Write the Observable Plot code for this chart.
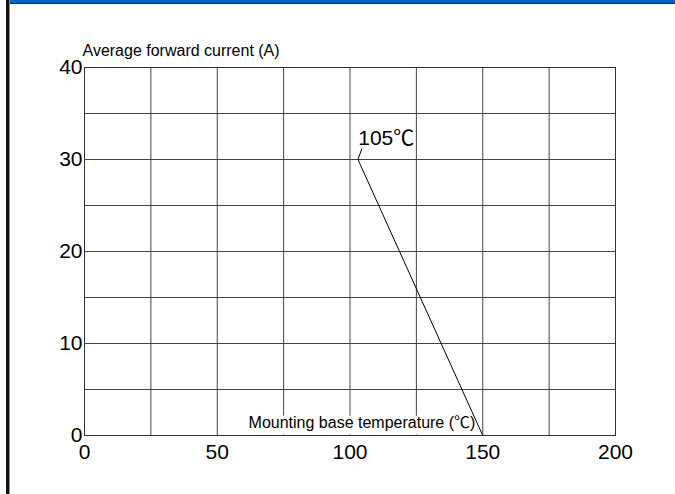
<!DOCTYPE html>
<html>
<head>
<meta charset="utf-8">
<script src="https://cdn.jsdelivr.net/npm/d3@7"></script>
<script src="https://cdn.jsdelivr.net/npm/@observablehq/plot@0.6"></script>
<style>
  html, body { margin: 0; padding: 0; background: #fff; }
  #wrap { position: relative; width: 675px; height: 494px; overflow: hidden; background: #fff; }
  #blue { position: absolute; left: 10px; top: 0; width: 665px; height: 3px; background: #0663c4; border-bottom: 1px solid #2a2a2a; }
  #lb1 { position: absolute; left: 6px; top: 0; width: 3px; height: 494px; background: #111; }
  #lb2 { position: absolute; left: 9px; top: 0; width: 1px; height: 494px; background: #8a8a8a; }
  #chart { position: absolute; left: 0; top: 0; }
</style>
</head>
<body>
<div id="wrap">
  <div id="blue"></div>
  <div id="lb1"></div>
  <div id="lb2"></div>
  <div id="chart"></div>
</div>
<script>
// ---- data ----
const xTicks = [0, 50, 100, 150, 200];
const yTicks = [0, 10, 20, 30, 40];
const xGrid = [25, 50, 75, 100, 125, 150, 175];
const yGrid = [5, 10, 15, 20, 25, 30, 35];
const deratingTemp = [103, 150];     // mounting base temperature (℃)
const deratingCurrent = [30, 0];     // average forward current (A)
const yTitle = ["Average forward current (A)"];
const xTitle = ["Mounting base temperature (℃)"];
const xTitlePos = [{x: 61.8, y: 0.85}];
const xTitleBox = [{x1: 61.5, x2: 145.5, y1: 0.06, y2: 2.1}];
const cornerLabel = ["105℃"];
const cornerLabelPos = [{x: 103.1, y: 31.55}];
const leader = [{x1: 103, y1: 30, x2: 104.5, y2: 31.2}];

const curve = deratingTemp.map((t, i) => ({t, a: deratingCurrent[i]}));
const font = "'Liberation Sans', Arial, 'Noto Sans CJK SC', sans-serif";

const chart = Plot.plot({
  width: 675,
  height: 494,
  marginLeft: 84,
  marginRight: 60,
  marginTop: 67,
  marginBottom: 59,
  style: {fontFamily: font, background: "transparent", color: "#000"},
  x: {domain: [0, 200]},
  y: {domain: [0, 40]},
  marks: [
    Plot.gridX(xGrid, {stroke: "#444", strokeOpacity: 1, strokeWidth: 1}),
    Plot.gridY(yGrid, {stroke: "#444", strokeOpacity: 1, strokeWidth: 1}),
    Plot.rect(xTitleBox, {x1: "x1", x2: "x2", y1: "y1", y2: "y2", fill: "white"}),
    Plot.frame({stroke: "#333", strokeWidth: 1}),
    Plot.axisX(xTicks, {tickSize: 0, tickPadding: 9, fontSize: 21, label: null, fill: "#000"}),
    Plot.axisY(yTicks, {tickSize: 0, tickPadding: 2, fontSize: 21, label: null, fill: "#000"}),
    Plot.line(curve, {x: "t", y: "a", stroke: "#000", strokeWidth: 1}),
    Plot.link(leader, {x1: "x1", y1: "y1", x2: "x2", y2: "y2", stroke: "#000", strokeWidth: 1}),
    Plot.text(cornerLabel, {x: cornerLabelPos.map(d => d.x), y: cornerLabelPos.map(d => d.y), text: d => d,
      textAnchor: "start", lineAnchor: "bottom", fontSize: 21, fill: "#000"}),
    Plot.text(xTitle, {x: xTitlePos.map(d => d.x), y: xTitlePos.map(d => d.y), text: d => d,
      textAnchor: "start", lineAnchor: "bottom", fontSize: 16, fill: "#000"}),
    Plot.text(yTitle, {frameAnchor: "top-left", text: d => d, textAnchor: "start", lineAnchor: "bottom",
      dx: -2, dy: -12, fontSize: 16, fill: "#000"})
  ]
});
d3.select(chart).selectAll('[aria-label="y-axis tick"], [aria-label="x-axis tick"]').remove();
document.getElementById("chart").appendChild(chart);
</script>
</body>
</html>
